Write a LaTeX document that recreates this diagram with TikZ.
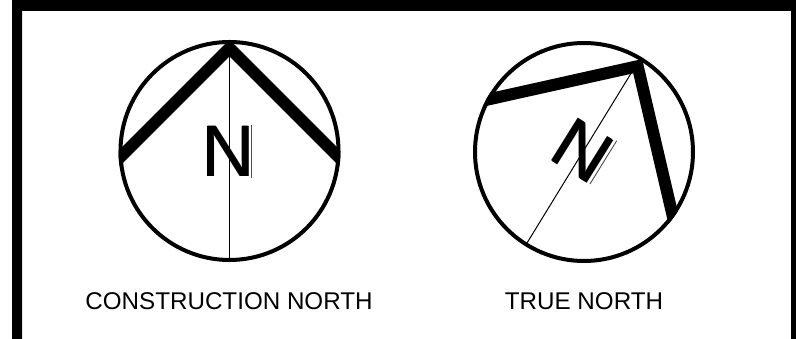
\documentclass[tikz,border=0pt]{standalone}
\usepackage{fontspec}
\setmainfont{Liberation Sans}
\tikzset{
  dial/.style={draw=black,line width=4pt},
  chevron/.style={draw=black,line width=12pt,miter limit=10,line join=miter},
  axis/.style={draw=black,line width=1pt},
  hairline/.style={draw=black!70,line width=0.9pt},
  caption/.style={inner sep=0pt,font=\fontsize{24.2}{28}\selectfont},
  bigN/.style={inner sep=0pt,font=\fontsize{73}{80}\selectfont},
  frameline/.style={fill=black}
}
\begin{document}
\begin{tikzpicture}[x=1pt,y=-1pt]
\useasboundingbox (0,0) rectangle (796,339);
\fill[white] (0,0) rectangle (796,339);
% frame
\fill[frameline] (12,339) -- (12,0) -- (796,0) -- (796,339) -- (791,339) -- (791,11) -- (22,11) -- (22,339) -- cycle;
% left dial
\draw[dial] (229.5,151) circle (109);
\draw[axis] (229.5,42) -- (229.5,260);
\begin{scope}
\clip (229.5,151) circle (111);
\draw[chevron] (100,177.5) -- (229.5,48) -- (359,177.5);
\end{scope}
\node[bigN] (nl) at (228,151) {N};
\node[bigN] (nl2) at (229,151) {N};
\draw[hairline] (251,125.5) -- (251,178);
\node[caption] (cl) at (229,300.7) {CONSTRUCTION NORTH};
% right dial
\draw[dial] (584,152) circle (109);
\draw[axis] (527,243) -- (638,62);
\begin{scope}
\clip (584,152) circle (111);
\draw[chevron] (470,103.5) -- (637.7,66.2) -- (676,230);
\end{scope}
\node[bigN,rotate=-32] (nr) at (581.8,150.2) {N};
\node[bigN,rotate=-32] (nr2) at (583,151) {N};
\draw[hairline] (616.7,140.7) -- (590,184);
\node[caption] (cr) at (584,300.7) {TRUE NORTH};
\end{tikzpicture}
\end{document}
